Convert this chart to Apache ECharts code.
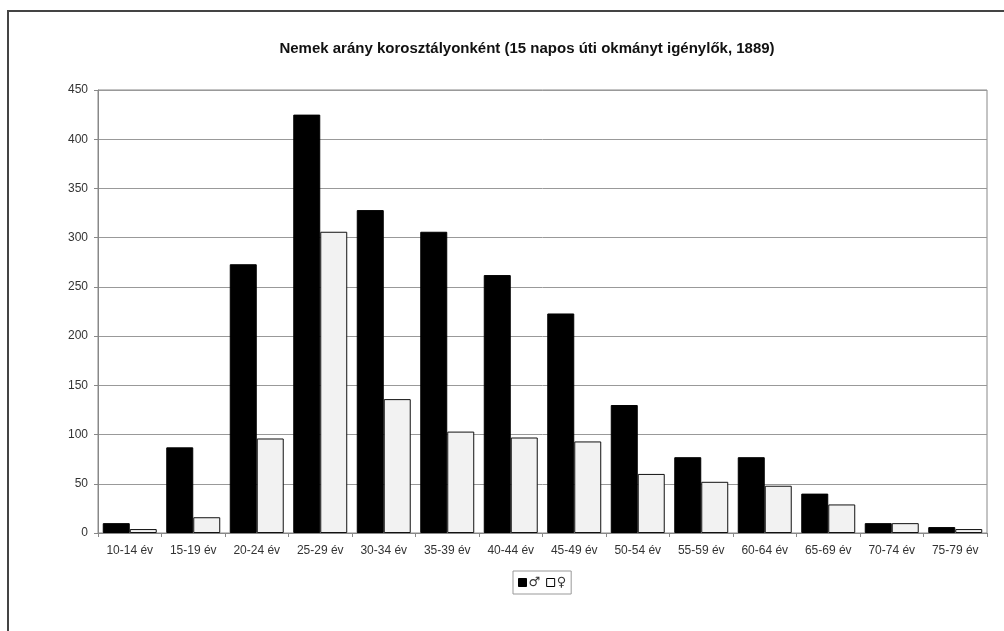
<!DOCTYPE html>
<html>
<head>
<meta charset="utf-8">
<script src="https://cdn.jsdelivr.net/npm/echarts@6/dist/echarts.min.js"></script>
<style>
html,body{margin:0;padding:0;background:#fff;}
#frame{position:absolute;left:7px;top:10px;width:1010px;height:640px;border-left:2px solid #444;border-top:2px solid #444;box-sizing:border-box;}
#chart{position:absolute;left:0;top:0;width:1004px;height:631px;}
</style>
</head>
<body>
<div id="frame"></div>
<div id="chart"></div>
<script>
const titleText = 'Nemek arány korosztályonként (15 napos úti okmányt igénylők, 1889)';
const categories = ['10-14 év','15-19 év','20-24 év','25-29 év','30-34 év','35-39 év','40-44 év','45-49 év','50-54 év','55-59 év','60-64 év','65-69 év','70-74 év','75-79 év'];
const maleName = '♂';
const femaleName = '♀';
const maleValues = [10, 87, 273, 425, 328, 306, 262, 223, 130, 77, 77, 40, 10, 6];
const femaleValues = [4, 16, 96, 306, 136, 103, 97, 93, 60, 52, 48, 29, 10, 4];
const yMin = 0, yMax = 450, yStep = 50;

const chart = echarts.init(document.getElementById('chart'), null, {renderer:'canvas'});
chart.setOption({
  animation: false,
  backgroundColor: 'transparent',
  title: {
    text: titleText,
    left: 522, top: 36, textAlign: 'center',
    textStyle: {fontFamily: 'Liberation Sans', fontSize: 15, fontWeight: 'bold', color: '#111'}
  },
  legend: {
    left: 513, top: 571,
    itemWidth: 8, itemHeight: 8, itemGap: 6,
    padding: [5, 5, 5, 5],
    borderColor: '#999', borderWidth: 1,
    icon: 'rect',
    textStyle: {fontFamily: 'DejaVu Sans', fontSize: 13, color: '#333', padding: [0,0,0,-3]},
    data: [
      {name: maleName, itemStyle: {color: '#000', borderColor: '#000', borderWidth: 1}},
      {name: femaleName, itemStyle: {color: '#fff', borderColor: '#000', borderWidth: 1}}
    ]
  },
  grid: {left: 98, right: 17, top: 90, bottom: 98, show: true, borderColor: '#888', borderWidth: 1},
  xAxis: {
    type: 'category', data: categories,
    axisLine: {lineStyle: {color: '#888'}},
    axisTick: {show: true, lineStyle: {color: '#888'}, length: 4},
    axisLabel: {fontFamily: 'Liberation Sans', fontSize: 12, color: '#333', margin: 12, interval: 0}
  },
  yAxis: {
    type: 'value', min: yMin, max: yMax, interval: yStep,
    axisLine: {show: true, lineStyle: {color: '#888'}},
    axisTick: {show: true, lineStyle: {color: '#888'}, length: 4},
    axisLabel: {fontFamily: 'Liberation Sans', fontSize: 12, color: '#333', margin: 10},
    splitLine: {lineStyle: {color: '#999', width: 1}}
  },
  series: [
    {name: maleName, type: 'bar', data: maleValues, barGap: '0%', barCategoryGap: '15%',
     itemStyle: {color: '#000', borderColor: '#000', borderWidth: 1}},
    {name: femaleName, type: 'bar', data: femaleValues,
     itemStyle: {color: '#f2f2f2', borderColor: '#111', borderWidth: 1}}
  ]
});
</script>
</body>
</html>
